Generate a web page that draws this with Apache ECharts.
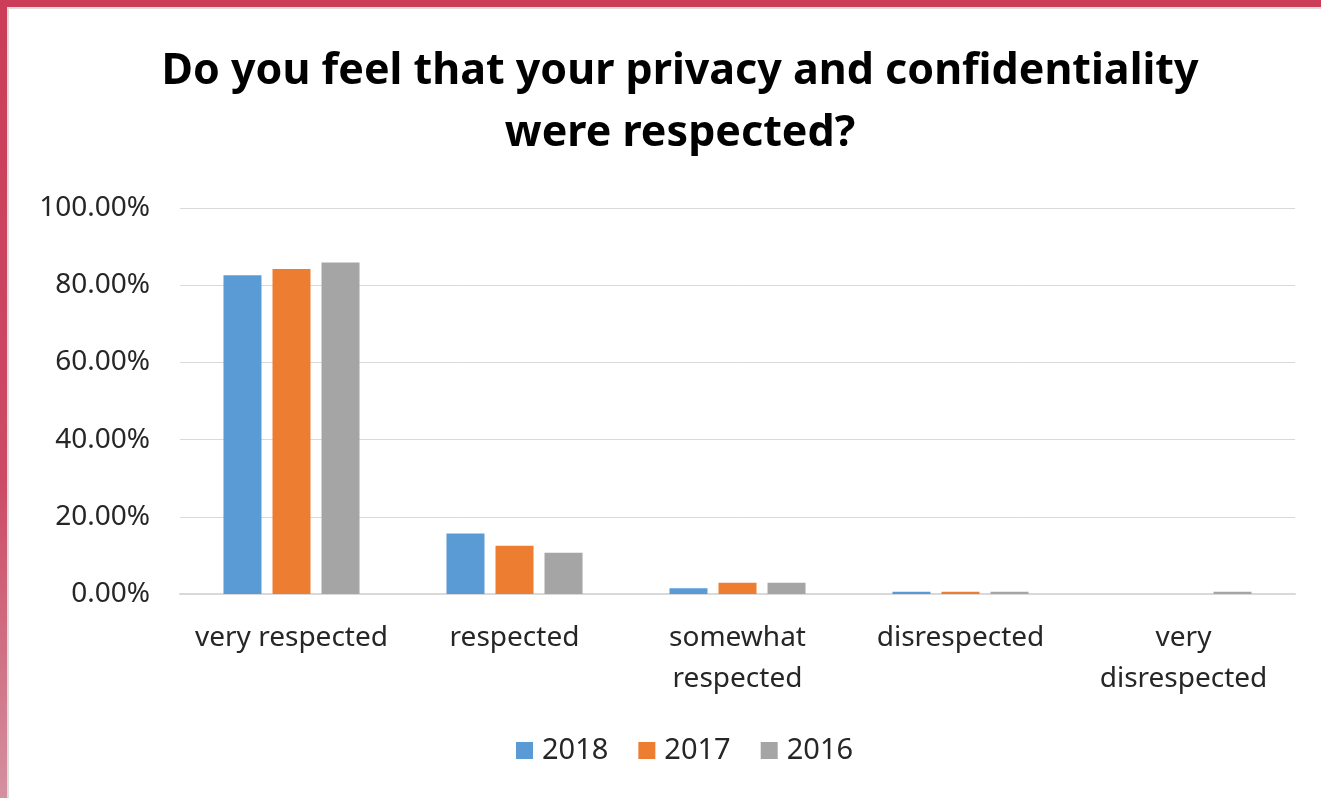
<!DOCTYPE html>
<html>
<head>
<meta charset="utf-8">
<script src="https://cdn.jsdelivr.net/npm/echarts@6/dist/echarts.min.js"></script>
<style>
  html, body { margin: 0; padding: 0; background: #fff; }
  #wrap { position: relative; width: 1321px; height: 798px; overflow: hidden; }
  #chart { position: absolute; left: 0; top: 0; width: 1321px; height: 798px; }
  .edgeTop { position: absolute; left: 0; top: 0; width: 1321px; height: 7px; background: #cb3d59; }
  .edgeLeft { position: absolute; left: 0; top: 0; width: 7px; height: 798px;
    background: linear-gradient(to bottom, #cb3d59 0%, #cc4a64 60%, #d4909f 100%); }
  .lineTop { position: absolute; left: 7px; top: 7px; width: 1314px; height: 2px; background: #dcdcdc; }
  .lineLeft { position: absolute; left: 7px; top: 7px; width: 2px; height: 791px; background: #dcdcdc; }
</style>
</head>
<body>
<div id="wrap">
  <div id="chart"></div>
  <div class="edgeTop"></div>
  <div class="edgeLeft"></div>
  <div class="lineTop"></div>
  <div class="lineLeft"></div>
</div>
<script>
const categories = ['very respected', 'respected', 'somewhat\nrespected', 'disrespected', 'very\ndisrespected'];
const yearNames = ['2018', '2017', '2016'];
const values2018 = [82.6, 15.7, 1.5, 0.6, 0];
const values2017 = [84.2, 12.5, 2.9, 0.6, 0];
const values2016 = [85.9, 10.7, 2.9, 0.6, 0.6];
const yearColors = ['#5b9bd5', '#ed7d31', '#a5a5a5'];

const chart = echarts.init(document.getElementById('chart'));
const font = '"Noto Sans", "Open Sans", sans-serif';
const textColor = '#262626';

const seriesData = [values2018, values2017, values2016];
const option = {
  backgroundColor: '#fff',
  animation: false,
  title: {
    text: 'Do you feel that your privacy and confidentiality\nwere respected?',
    left: 675,
    top: 36,
    textAlign: 'center',
    textStyle: {
      fontFamily: font,
      fontSize: 43,
      fontWeight: 'bold',
      color: '#000',
      lineHeight: 62,
    },
  },
  legend: {
    data: yearNames,
    left: 511,
    top: 731,
    itemWidth: 17,
    itemHeight: 17,
    itemGap: 30,
    icon: 'rect',
    textStyle: { fontFamily: font, fontSize: 29, color: textColor, padding: [0, 0, 0, 4] },
  },
  grid: {
    left: 180,
    right: 26,
    top: 208,
    bottom: 204,
  },
  xAxis: {
    type: 'category',
    data: categories,
    axisLine: { show: true, lineStyle: { color: '#d9d9d9', width: 2 } },
    axisTick: { show: false },
    axisLabel: {
      fontFamily: font,
      fontSize: 28,
      color: textColor,
      margin: 24,
      lineHeight: 41,
      interval: 0,
    },
  },
  yAxis: {
    type: 'value',
    min: 0,
    max: 100,
    interval: 20,
    axisLine: { show: false },
    axisTick: { show: false },
    splitLine: { lineStyle: { color: '#d9d9d9', width: 1 } },
    axisLabel: {
      fontFamily: font,
      fontSize: 28,
      color: textColor,
      margin: 30,
      formatter: v => v.toFixed(2) + '%',
    },
  },
  series: yearNames.map((name, i) => ({
    name,
    type: 'bar',
    data: seriesData[i],
    barWidth: 38,
    barGap: '29%',
    itemStyle: { color: yearColors[i] },
  })),
};
chart.setOption(option);
</script>
</body>
</html>
